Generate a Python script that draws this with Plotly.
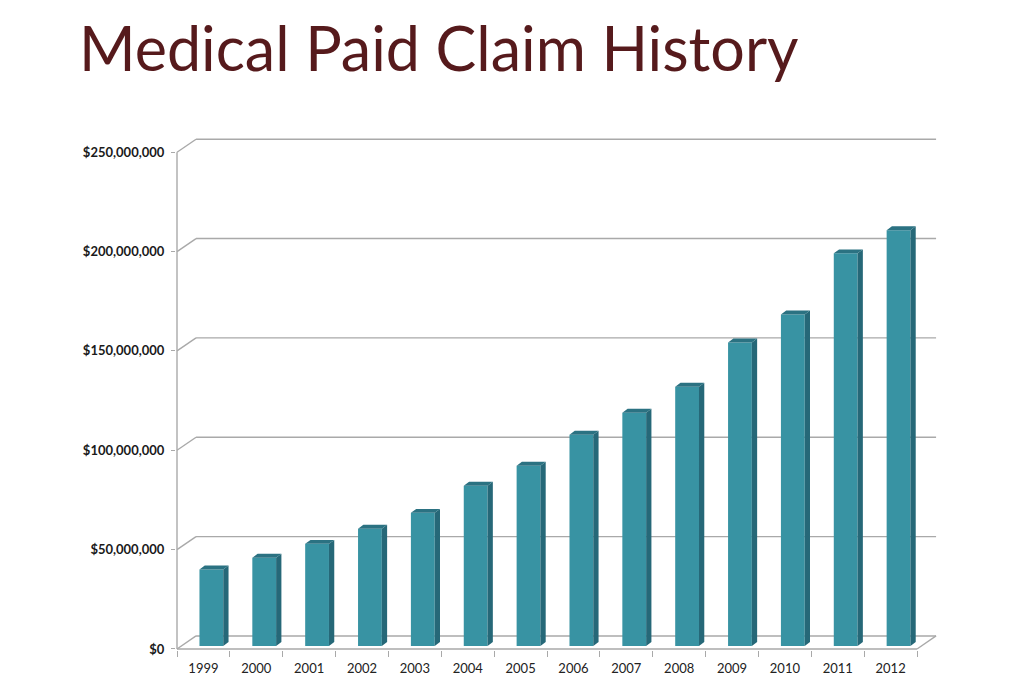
import plotly.graph_objects as go

years = ["1999", "2000", "2001", "2002", "2003", "2004", "2005",
         "2006", "2007", "2008", "2009", "2010", "2011", "2012"]
paid_claims = [38.5e6, 44.4e6, 51.4e6, 59.0e6, 67.0e6, 80.6e6, 90.7e6,
               106.3e6, 117.4e6, 130.5e6, 152.7e6, 166.8e6, 197.6e6, 209.2e6]
y_ticks = [0, 50e6, 100e6, 150e6, 200e6, 250e6]
y_tick_labels = ["$0", "$50,000,000", "$100,000,000", "$150,000,000",
                 "$200,000,000", "$250,000,000"]

W, H = 1024, 683
FRONT = "#3893a3"
SIDE = "#266878"
TOP = "#2b7282"
GRID = "#a9a9a9"

# fake 3d: depth of the back wall and of each bar (axis units)
WALL_DX = 0.36
WALL_DY = 6.55e6
BAR_W = 0.45
BAR_SHIFT = 0.15
BAR_LIFT = 1.5e6
SIDE_DX = 0.10
SIDE_DY = 2.0e6

# pixel placement of the front axes (the page comes out ~1% short vertically)
Y_FIX = 683 / 676
x_left_px, cat_px = 177, 52.86
y_zero_px, px_per_dollar = 648 * Y_FIX, 496 * Y_FIX / 250e6

n = len(years)
idx = list(range(n))
x_min, x_max = -0.52, n - 0.5 + WALL_DX + 0.02
y_min, y_max = -0.6e6, y_ticks[-1] + WALL_DY + 0.6e6

xd0 = (x_left_px + (x_min + 0.5) * cat_px) / W
xd1 = (x_left_px + (x_max + 0.5) * cat_px) / W
yd0 = (H - (y_zero_px - y_min * px_per_dollar)) / H
yd1 = (H - (y_zero_px - y_max * px_per_dollar)) / H

fig = go.Figure()

fig.add_trace(go.Bar(x=idx, y=paid_claims, base=BAR_LIFT, width=BAR_W,
                     offset=BAR_SHIFT - BAR_W / 2, marker_color=FRONT,
                     marker_line_width=0, hoverinfo="skip"))

side_x, side_y, top_x, top_y = [], [], [], []
for i, v in zip(idx, paid_claims):
    xl = i + BAR_SHIFT - BAR_W / 2
    xr = i + BAR_SHIFT + BAR_W / 2
    b = BAR_LIFT
    side_x += [xr, xr + SIDE_DX, xr + SIDE_DX, xr, xr, None]
    side_y += [b, b + SIDE_DY, b + v + SIDE_DY, b + v, b, None]
    top_x += [xl, xr, xr + SIDE_DX, xl + SIDE_DX, xl, None]
    top_y += [b + v, b + v, b + v + SIDE_DY, b + v + SIDE_DY, b + v, None]

fig.add_trace(go.Scatter(x=side_x, y=side_y, mode="lines", fill="toself",
                         fillcolor=SIDE, line=dict(width=0, color=SIDE),
                         hoverinfo="skip"))
fig.add_trace(go.Scatter(x=top_x, y=top_y, mode="lines", fill="toself",
                         fillcolor=TOP, line=dict(width=0, color=TOP),
                         hoverinfo="skip"))

shapes = []
line = dict(color=GRID, width=1.4)
for v in y_ticks:
    # back wall gridline and the slanted link to the front axis
    shapes.append(dict(type="line", xref="x", yref="y", layer="below",
                       x0=-0.5 + WALL_DX, x1=n - 0.5 + WALL_DX,
                       y0=v + WALL_DY, y1=v + WALL_DY, line=line))
    shapes.append(dict(type="line", xref="x", yref="y", layer="below",
                       x0=-0.5, x1=-0.5 + WALL_DX, y0=v, y1=v + WALL_DY, line=line))
# front axis, floor edge and right floor corner
shapes.append(dict(type="line", xref="x", yref="y", layer="below",
                   x0=-0.5, x1=-0.5, y0=0, y1=y_ticks[-1], line=line))
shapes.append(dict(type="line", xref="x", yref="y", layer="below",
                   x0=-0.5, x1=n - 0.5, y0=0, y1=0, line=line))
shapes.append(dict(type="line", xref="x", yref="y", layer="below",
                   x0=n - 0.5, x1=n - 0.5 + WALL_DX, y0=0, y1=WALL_DY, line=line))

fig.update_layout(
    width=W, height=H,
    margin=dict(l=0, r=0, t=0, b=0),
    paper_bgcolor="white", plot_bgcolor="white",
    showlegend=False,
    shapes=shapes,
    annotations=[dict(text="Medical Paid Claim History", xref="paper", yref="paper",
                      x=77 / W, y=(H - 47 * Y_FIX) / H, xanchor="left", yanchor="middle",
                      showarrow=False,
                      font=dict(family="Lato", size=61, color="#561a1c"))],
)

fig.update_xaxes(range=[x_min, x_max], domain=[xd0, xd1],
                 tickvals=idx, ticktext=years, ticks="",
                 showgrid=False, zeroline=False, showline=False,
                 ticklabelstandoff=9,
                 tickfont=dict(family="Lato", size=13, color="#222222"),
                 minor=dict(tickmode="array", tickvals=[i - 0.5 for i in range(n + 1)],
                            ticks="outside", ticklen=6, tickcolor=GRID,
                            tickwidth=1.4, showgrid=False))
fig.update_yaxes(range=[y_min, y_max], domain=[yd0, yd1],
                 tickvals=y_ticks, ticktext=y_tick_labels,
                 ticks="outside", ticklen=4, tickcolor=GRID, tickwidth=1.4,
                 showgrid=False, zeroline=False, showline=False,
                 ticklabelstandoff=4,
                 tickfont=dict(family="Lato", size=13, color="#1a1a1a", weight="bold"))

fig.write_html("out.html", config={"displayModeBar": False},
               post_script="document.body.style.margin = '0';")
